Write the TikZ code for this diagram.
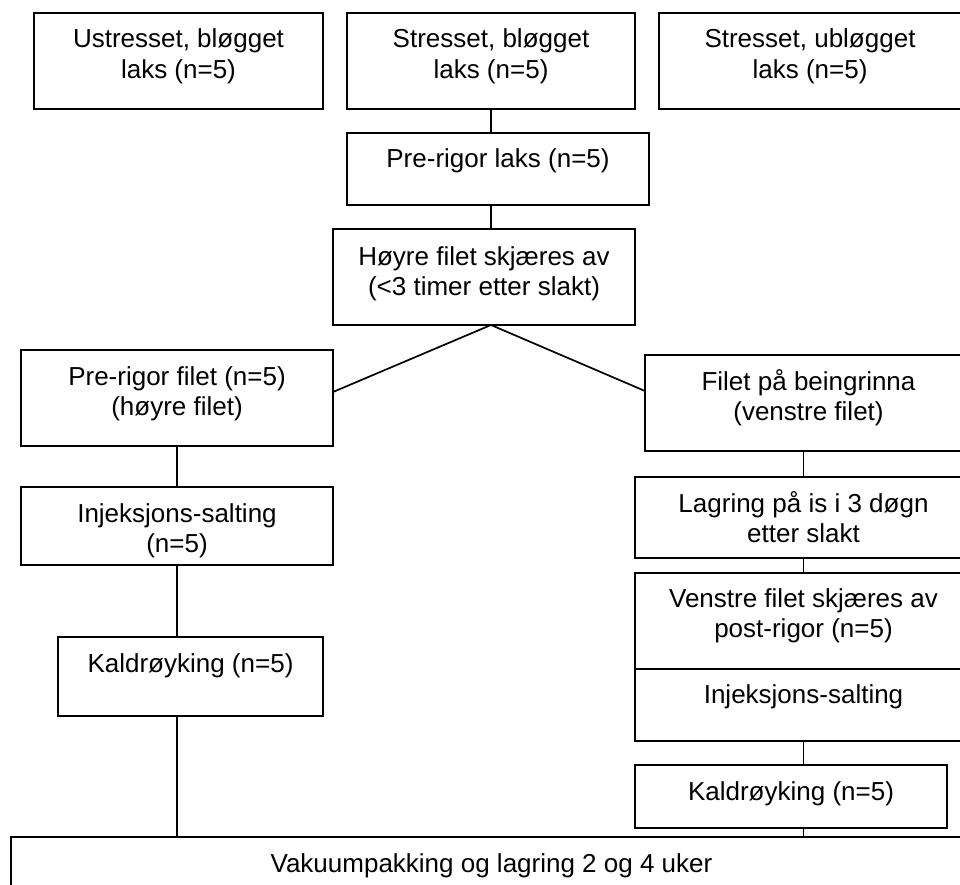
\documentclass[tikz,border=0pt]{standalone}
\usepackage{fontspec}
\setmainfont{Liberation Sans}
\begin{document}
\begin{tikzpicture}[x=1pt,y=-1pt,
  box/.style={draw=black, line width=1.8pt, rectangle, inner sep=0pt, outer sep=0pt, fill=none},
  lbl/.style={anchor=base, align=center, inner sep=0pt, font=\fontsize{26}{30.5}\selectfont},
  conn/.style={draw=black, line width=1.7pt}]
\clip (0,0) rectangle (960,885);
\fill[white] (0,0) rectangle (960,885);
% boxes
\node[box, minimum width=289pt, minimum height=96pt] (b1) at (178.5,61) {};
\node[box, minimum width=288pt, minimum height=96pt] (b2) at (491,61) {};
\node[box, minimum width=302pt, minimum height=96pt] (b3) at (810,61) {};
\node[box, minimum width=302pt, minimum height=72pt] (plr) at (498,169) {};
\node[box, minimum width=302pt, minimum height=96pt] (hf) at (484,277) {};
\node[box, minimum width=312pt, minimum height=96pt] (pf) at (177,398) {};
\node[box, minimum width=327pt, minimum height=96pt] (fb) at (808.5,403) {};
\node[box, minimum width=312pt, minimum height=78pt] (inj) at (177,526) {};
\node[box, minimum width=265pt, minimum height=79pt] (kl) at (190.5,676.5) {};
\node[box, minimum width=337pt, minimum height=81pt] (lag) at (803.5,517.5) {};
\node[box, minimum width=337pt, minimum height=96pt] (ven) at (803.5,621) {};
\node[box, minimum width=337pt, minimum height=72pt] (inr) at (803.5,705) {};
\node[box, minimum width=312pt, minimum height=63pt] (kr) at (791,796.5) {};
\node[box, minimum width=961pt, minimum height=63pt] (vak) at (491.5,868.5) {};
% labels (two-line labels: base anchor is on the last line)
\node[lbl] (t1) at (178.5,78.5) {Ustresset, bløgget\\laks (n=5)};
\node[lbl] (t2) at (491,78.5) {Stresset, bløgget\\laks (n=5)};
\node[lbl] (t3) at (810,78.5) {Stresset, ubløgget\\laks (n=5)};
\node[lbl] (tplr) at (498,168) {Pre-rigor laks (n=5)};
\node[lbl] (thf) at (484,295.5) {Høyre filet skjæres av\\(<3 timer etter slakt)};
\node[lbl] (tpf) at (177,415.5) {Pre-rigor filet (n=5)\\(høyre filet)};
\node[lbl] (tfb) at (808.5,420.5) {Filet på beingrinna\\(venstre filet)};
\node[lbl] (tinj) at (177,552.5) {Injeksjons-salting\\(n=5)};
\node[lbl] (tkl) at (190.5,672) {Kaldrøyking (n=5)};
\node[lbl] (tlag) at (803.5,542.5) {Lagring på is i 3 døgn\\etter slakt};
\node[lbl] (tven) at (803.5,637.5) {Venstre filet skjæres av\\post-rigor (n=5)};
\node[lbl] (tinr) at (803.5,703) {Injeksjons-salting};
\node[lbl] (tkr) at (791,800) {Kaldrøyking (n=5)};
\node[lbl] (tvak) at (491.5,872) {Vakuumpakking og lagring 2 og 4 uker};
% connectors
\coordinate (split) at (b2.south |- hf.south);
\draw[conn] (b2.south) -- (b2.south |- plr.north);
\draw[conn] (b2.south |- plr.south) -- (b2.south |- hf.north);
\draw[conn] ([yshift=6pt]pf.east) -- (split) -- ([yshift=12pt]fb.west);
\draw[conn] (pf.south) -- (inj.north);
\draw[conn] (inj.south) -- (inj.south |- kl.north);
\draw[conn] (inj.south |- kl.south) -- (inj.south |- vak.north);
\draw[conn] (lag.north |- fb.south) -- (lag.north);
\draw[conn] (lag.south) -- (ven.north);
\draw[conn] (inr.south) -- (inr.south |- kr.north);
\draw[conn] (inr.south |- kr.south) -- (inr.south |- vak.north);
\end{tikzpicture}
\end{document}
